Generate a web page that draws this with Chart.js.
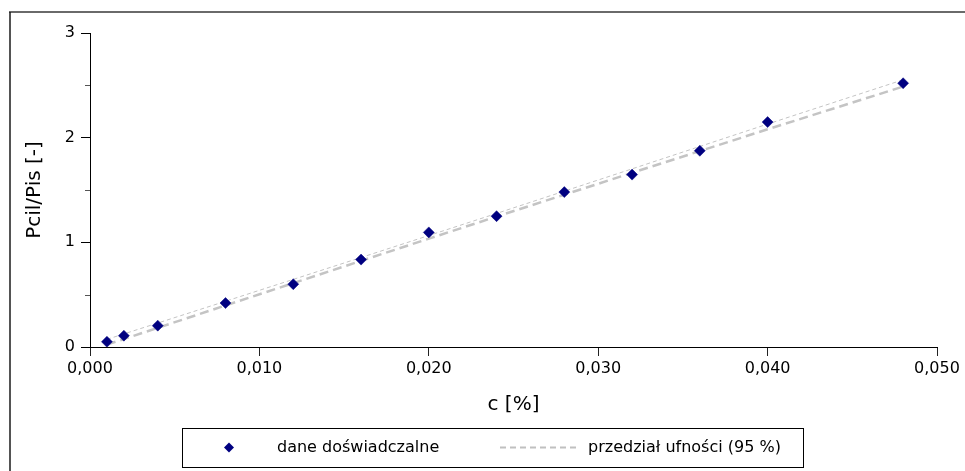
<!DOCTYPE html>
<html>
<head>
<meta charset="utf-8">
<script src="https://cdn.jsdelivr.net/npm/chart.js@4.4.1/dist/chart.umd.min.js"></script>
<style>
html,body{margin:0;padding:0;background:#fff;}
#wrap{width:965px;height:471px;position:relative;}
canvas{display:block;}
</style>
</head>
<body>
<div id="wrap"><canvas id="c" width="965" height="471"></canvas></div>
<script>
// ---- data ----
const cValues      = [0.001, 0.002, 0.004, 0.008, 0.012, 0.016, 0.020, 0.024, 0.028, 0.032, 0.036, 0.040, 0.048];
const ratioValues  = [0.050, 0.108, 0.204, 0.420, 0.600, 0.835, 1.095, 1.250, 1.480, 1.647, 1.875, 2.149, 2.520];
const upperBand    = [0.073, 0.125, 0.229, 0.437, 0.646, 0.855, 1.065, 1.276, 1.489, 1.702, 1.916, 2.130, 2.553];
const lowerBand    = [0.023, 0.076, 0.183, 0.397, 0.610, 0.823, 1.035, 1.246, 1.455, 1.664, 1.872, 2.080, 2.488];
const xTickLabels  = ['0,000', '0,010', '0,020', '0,030', '0,040', '0,050'];
const yTickLabels  = ['0', '1', '2', '3'];
const seriesLabels = ['dane doświadczalne', 'przedział ufności (95 %)'];
const xTitle = 'c [%]';
const yTitle = 'Pcil/Pis [-]';

const FONT = '"DejaVu Sans", Verdana, sans-serif';
const pts = (xs, ys) => xs.map((x, i) => ({x: x, y: ys[i]}));

const decorPlugin = {
  id: 'decor',
  afterDraw(chart) {
    const ctx = chart.ctx;
    const ys = chart.scales.y;
    ctx.save();
    // minor ticks on y axis
    ctx.strokeStyle = '#555';
    ctx.lineWidth = 1;
    [0.5, 1.5, 2.5].forEach(v => {
      const py = Math.round(ys.getPixelForValue(v)) + 0.5;
      ctx.beginPath();
      ctx.moveTo(ys.right - 5, py);
      ctx.lineTo(ys.right, py);
      ctx.stroke();
    });
    // outer frame (top and left edges visible)
    ctx.strokeStyle = '#6a6a6a';
    ctx.lineWidth = 2;
    ctx.beginPath();
    ctx.moveTo(9, 12);
    ctx.lineTo(965, 12);
    ctx.stroke();
    ctx.strokeStyle = '#1a1a1a';
    ctx.lineWidth = 1.5;
    ctx.beginPath();
    ctx.moveTo(10, 12);
    ctx.lineTo(10, 471);
    ctx.stroke();
    // legend box
    ctx.strokeStyle = '#000';
    ctx.lineWidth = 1;
    ctx.strokeRect(182.5, 428.5, 621, 39);
    const ly = 447.5;
    // diamond marker
    ctx.fillStyle = '#000080';
    ctx.beginPath();
    ctx.moveTo(229 - 5, ly);
    ctx.lineTo(229, ly - 5);
    ctx.lineTo(229 + 5, ly);
    ctx.lineTo(229, ly + 5);
    ctx.closePath();
    ctx.fill();
    // dashed sample
    ctx.strokeStyle = '#c0c0c0';
    ctx.lineWidth = 2;
    ctx.setLineDash([6, 4]);
    ctx.beginPath();
    ctx.moveTo(500, ly);
    ctx.lineTo(580, ly);
    ctx.stroke();
    ctx.setLineDash([]);
    // texts
    ctx.fillStyle = '#000';
    ctx.font = '16px ' + FONT;
    ctx.textBaseline = 'middle';
    ctx.textAlign = 'left';
    ctx.fillText(chart.data.datasets[0].label, 277, ly);
    ctx.fillText(chart.data.datasets[1].label, 588, ly);
    ctx.restore();
  }
};

new Chart(document.getElementById('c'), {
  type: 'scatter',
  data: {
    datasets: [
      {
        label: seriesLabels[0],
        data: pts(cValues, ratioValues),
        pointStyle: 'rectRot',
        pointRadius: 5.5,
        pointHoverRadius: 5.5,
        backgroundColor: '#000080',
        borderColor: '#000080',
        borderWidth: 0.5,
        showLine: false
      },
      {
        label: seriesLabels[1],
        data: pts(cValues, lowerBand),
        showLine: true,
        pointRadius: 0,
        borderColor: '#c4c4c4',
        borderWidth: 2.5,
        borderDash: [9, 5],
        backgroundColor: 'transparent'
      },
      {
        label: seriesLabels[1] + ' ',
        data: pts(cValues, upperBand),
        showLine: true,
        pointRadius: 0,
        borderColor: '#c4c4c4',
        borderWidth: 1,
        borderDash: [4, 3],
        backgroundColor: 'transparent'
      }
    ]
  },
  options: {
    responsive: false,
    animation: false,
    events: [],
    layout: { padding: { left: 12, top: 33, right: 28, bottom: 54 } },
    plugins: {
      legend: { display: false },
      tooltip: { enabled: false }
    },
    scales: {
      x: {
        type: 'linear',
        min: 0,
        max: 0.05,
        afterFit: s => { s.height = 70; },
        afterBuildTicks: s => { s.ticks = xTickLabels.map((t, i) => ({value: i * 0.01})); },
        ticks: {
          callback: (v, i) => xTickLabels[i],
          color: '#000',
          font: { family: FONT, size: 16 },
          padding: 3,
          maxRotation: 0,
          autoSkip: false
        },
        grid: { drawOnChartArea: false, drawTicks: true, tickLength: 9, color: '#222' },
        border: { display: true, color: '#000', width: 1 },
        title: {
          display: true,
          text: xTitle,
          color: '#000',
          font: { family: FONT, size: 20 },
          padding: { top: 0, bottom: 0 }
        }
      },
      y: {
        type: 'linear',
        min: 0,
        max: 3,
        afterFit: s => { s.width = 78; },
        afterBuildTicks: s => { s.ticks = yTickLabels.map((t, i) => ({value: i})); },
        ticks: {
          callback: (v, i) => yTickLabels[i],
          color: '#000',
          font: { family: FONT, size: 16 },
          padding: 6,
          autoSkip: false
        },
        grid: { drawOnChartArea: false, drawTicks: true, tickLength: 9, color: '#000' },
        border: { display: true, color: '#000', width: 1 },
        title: {
          display: true,
          text: yTitle,
          color: '#000',
          font: { family: FONT, size: 20 },
          padding: { top: 11, bottom: 0 }
        }
      }
    }
  },
  plugins: [decorPlugin]
});
</script>
</body>
</html>
